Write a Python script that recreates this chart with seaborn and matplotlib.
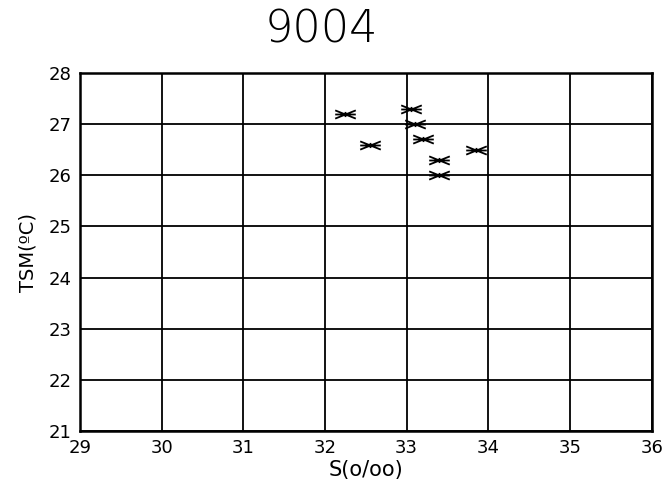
import matplotlib
matplotlib.use("Agg")
import matplotlib.pyplot as plt
from matplotlib.path import Path
import seaborn as sns
import pandas as pd

salinity = [32.25, 33.05, 33.10, 32.55, 33.20, 33.85, 33.40, 33.40]
temperature = [27.2, 27.3, 27.0, 26.6, 26.7, 26.5, 26.3, 26.0]
x_ticks = [29, 30, 31, 32, 33, 34, 35, 36]
y_ticks = [21, 22, 23, 24, 25, 26, 27, 28]
title = "9004"
x_label = "S(o/oo)"
y_label = "TSM(ºC)"

df = pd.DataFrame({"S": salinity, "T": temperature})

sns.set_theme(style="white")
plt.rcParams['font.family'] = ['DejaVu Sans']
plt.rcParams['text.color'] = 'black'
plt.rcParams['axes.labelcolor'] = 'black'
plt.rcParams['xtick.color'] = 'black'
plt.rcParams['ytick.color'] = 'black'

# asterisk-like marker: horizontal bar, two shallow diagonals, short vertical stub
verts = [(-1, 0), (1, 0), (-1, -0.4), (1, 0.4), (-1, 0.4), (1, -0.4), (0, -0.25), (0, 0.25)]
codes = [Path.MOVETO, Path.LINETO, Path.MOVETO, Path.LINETO, Path.MOVETO, Path.LINETO,
         Path.MOVETO, Path.LINETO]
star = Path(verts, codes)

fig = plt.figure(figsize=(6.67, 5.03), dpi=100)
ax = fig.add_axes([0.12, 0.143, 0.857, 0.712])

sns.scatterplot(data=df, x="S", y="T", ax=ax, marker=star, s=220,
                color="black", edgecolor="black", linewidth=1.3, zorder=3)

ax.set_xlim(29, 36)
ax.set_ylim(21, 28)
ax.set_xticks(x_ticks)
ax.set_yticks(y_ticks)
ax.grid(True, color="black", linewidth=1.3)
for s in ax.spines.values():
    s.set_color("black")
    s.set_linewidth(1.8)
ax.tick_params(axis="both", direction="out", length=4, width=1.2, color="black",
               labelsize=13, pad=2)
ax.set_xlabel(x_label, fontsize=15, labelpad=2)
ax.set_ylabel(y_label, fontsize=14, labelpad=8)
fig.text(0.482, 0.94, title, ha="center", va="center", fontsize=32,
         fontweight="light", color="black")

fig.savefig("out.png", dpi=100)
